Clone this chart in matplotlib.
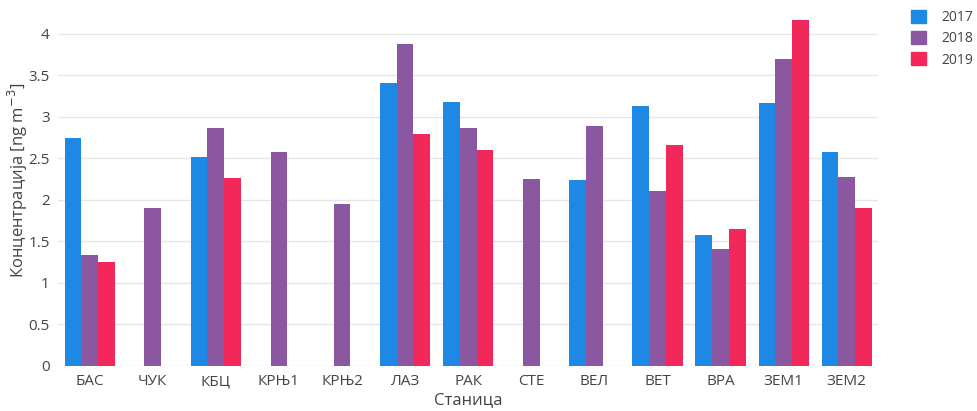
import matplotlib
matplotlib.use("Agg")
import matplotlib.pyplot as plt
from matplotlib.patches import Rectangle
import numpy as np

plt.rcParams['font.family'] = ['Open Sans', 'DejaVu Sans']

stations = ["БАС", "ЧУК", "КБЦ", "КРЊ1", "КРЊ2", "ЛАЗ", "РАК", "СТЕ", "ВЕЛ", "ВЕТ", "ВРА", "ЗЕМ1", "ЗЕМ2"]
years = ["2017", "2018", "2019"]
v2017 = [2.74, np.nan, 2.51, np.nan, np.nan, 3.41, 3.18, np.nan, 2.24, 3.13, 1.575, 3.17, 2.57]
v2018 = [1.33, 1.90, 2.87, 2.58, 1.95, 3.88, 2.87, 2.25, 2.89, 2.11, 1.41, 3.69, 2.27]
v2019 = [1.245, np.nan, 2.26, np.nan, np.nan, 2.79, 2.60, np.nan, np.nan, 2.66, 1.65, 4.17, 1.90]
colors = ["#1E88E5", "#8A57A0", "#F2275A"]

fig = plt.figure(figsize=(9.77, 4.11), dpi=100)
ax = fig.add_axes([0.0594, 0.110, 0.8396, 0.8686])

x = np.arange(len(stations))
w = 0.265
for i, (vals, c, lab) in enumerate(zip([v2017, v2018, v2019], colors, years)):
    ax.bar(x + (i - 1) * w, vals, width=w, color=c, label=lab, zorder=3, linewidth=0)

ax.set_xlim(-0.5, len(stations) - 0.5)
ax.set_ylim(0, 4.3)
ax.set_yticks([0, 0.5, 1, 1.5, 2, 2.5, 3, 3.5, 4])
ax.set_yticklabels(["0", "0.5", "1", "1.5", "2", "2.5", "3", "3.5", "4"])
ax.set_xticks(x)
ax.set_xticklabels(stations)
ax.grid(axis='y', color='#e6e6e6', linewidth=1, zorder=0)
for s in ax.spines.values():
    s.set_visible(False)
ax.tick_params(axis='both', length=0, labelsize=11, colors='#444444')
ax.tick_params(axis='x', pad=6)
ax.tick_params(axis='y', pad=6)
ax.set_xlabel("Станица", fontsize=12, color='#444444', labelpad=2)
ax.set_ylabel("Концентрација [ng m$^{-3}$]", fontsize=12, color='#444444')
ax.yaxis.set_label_coords(-0.034, 0.52)

leg = fig.legend(handles=[Rectangle((0, 0), 1, 1, color=c) for c in colors], labels=years,
                 loc='upper left', bbox_to_anchor=(0.92, 1.007), frameon=False,
                 fontsize=10, handlelength=1.05, handleheight=1.05, handletextpad=1.1,
                 labelspacing=0.45, labelcolor='#444444')

fig.savefig("out.png", dpi=100)
